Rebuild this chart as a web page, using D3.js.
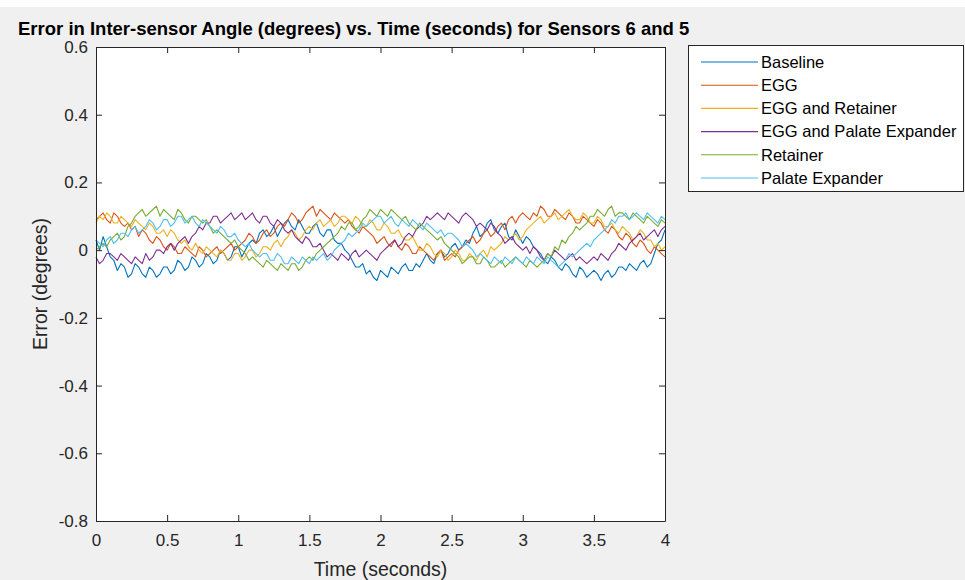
<!DOCTYPE html>
<html>
<head>
<meta charset="utf-8">
<script src="https://cdn.jsdelivr.net/npm/d3@7"></script>
<style>
  body { margin: 0; background: #f0f0f0; }
  svg { display: block; font-family: "Liberation Sans", Arial, sans-serif; }
</style>
</head>
<body>
<svg width="965" height="580"></svg>
<script>
// time samples (seconds), one every 0.025 s
const times = d3.range(161).map((i) => +(i * 0.025).toFixed(3));

const seriesNames = [
  "Baseline",
  "EGG",
  "EGG and Retainer",
  "EGG and Palate Expander",
  "Retainer",
  "Palate Expander",
];
const colors = ["#0072BD", "#D95319", "#EDB120", "#7E2F8E", "#77AC30", "#4DBEEE"];

// values, one per time sample
const baseline = [
  0.03, 0.0, 0.04, 0.01, -0.02, -0.03, -0.06, -0.04, -0.05, -0.08, -0.07, -0.04, -0.05, -0.07, -0.08, -0.05, -0.06, -0.08, -0.07, -0.05,
  -0.05, -0.07, -0.06, -0.03, -0.04, -0.06, -0.05, -0.02, -0.03, -0.05, -0.04, -0.01, -0.02, -0.04, -0.03, 0.0, -0.01, -0.03, -0.02, 0.01,
  0.01, -0.02, 0.0, 0.02, 0.03, 0.02, 0.05, 0.06, 0.04, 0.05, 0.07, 0.04, 0.06, 0.08, 0.09, 0.07, 0.06, 0.09, 0.07, 0.05,
  0.05, 0.07, 0.08, 0.05, 0.04, 0.06, 0.06, 0.03, 0.02, 0.02, 0.0, -0.01, -0.03, -0.05, -0.05, -0.04, -0.07, -0.06, -0.08, -0.09,
  -0.06, -0.07, -0.08, -0.05, -0.06, -0.07, -0.05, -0.04, -0.06, -0.06, -0.04, -0.05, -0.03, -0.01, -0.03, -0.04, -0.01, 0.0, -0.02, -0.01,
  0.01, 0.02, 0.0, 0.01, 0.03, 0.02, 0.05, 0.07, 0.04, 0.05, 0.08, 0.09, 0.06, 0.05, 0.07, 0.08, 0.04, 0.03, 0.06, 0.04,
  0.02, 0.04, 0.03, 0.01, 0.0, -0.01, -0.03, -0.04, -0.02, -0.03, -0.05, -0.06, -0.04, -0.05, -0.07, -0.08, -0.05, -0.06, -0.08, -0.07,
  -0.06, -0.07, -0.09, -0.07, -0.06, -0.08, -0.07, -0.05, -0.05, -0.06, -0.04, -0.05, -0.06, -0.04, -0.03, -0.05, -0.04, -0.01, 0.02, 0.03,
  0.06,
];
const egg = [
  0.09, 0.1, 0.11, 0.09, 0.08, 0.11, 0.1, 0.08, 0.07, 0.08, 0.06, 0.07, 0.04, 0.06, 0.05, 0.03, 0.02, 0.04, 0.03, 0.01,
  0.0, 0.02, 0.01, -0.01, -0.01, 0.01, 0.0, -0.01, -0.02, 0.01, 0.0, -0.02, -0.01, 0.0, 0.01, -0.01, 0.0, 0.01, 0.02, 0.0,
  0.01, 0.02, 0.03, 0.05, 0.04, 0.02, 0.03, 0.05, 0.06, 0.04, 0.05, 0.07, 0.08, 0.07, 0.09, 0.11, 0.1, 0.08, 0.09, 0.11,
  0.12, 0.13, 0.1, 0.12, 0.11, 0.1, 0.09, 0.11, 0.1, 0.09, 0.08, 0.09, 0.07, 0.06, 0.05, 0.07, 0.06, 0.05, 0.04, 0.02,
  0.03, 0.04, 0.02, 0.01, 0.03, 0.01, 0.0, 0.02, 0.01, -0.01, -0.01, 0.01, 0.0, -0.01, -0.02, -0.03, -0.01, 0.0, -0.03, -0.02,
  -0.01, -0.02, 0.0, 0.01, 0.02, 0.03, 0.04, 0.02, 0.03, 0.05, 0.06, 0.04, 0.05, 0.07, 0.08, 0.06, 0.09, 0.1, 0.08, 0.1,
  0.11, 0.1, 0.09, 0.11, 0.1, 0.13, 0.12, 0.1, 0.1, 0.12, 0.11, 0.1, 0.09, 0.11, 0.1, 0.08, 0.08, 0.1, 0.09, 0.08,
  0.07, 0.09, 0.08, 0.06, 0.05, 0.07, 0.06, 0.04, 0.03, 0.05, 0.04, 0.02, 0.01, 0.03, 0.02, 0.0, -0.01, 0.01, 0.0, -0.01,
  -0.02,
];
const eggRetainer = [
  0.08, 0.1, 0.09, 0.11, 0.1, 0.08, 0.08, 0.1, 0.09, 0.08, 0.07, 0.09, 0.08, 0.07, 0.06, 0.08, 0.07, 0.05, 0.05, 0.06,
  0.04, 0.06, 0.05, 0.03, 0.02, 0.03, 0.01, 0.0, 0.02, 0.0, -0.01, 0.01, 0.0, -0.01, -0.02, 0.0, -0.01, -0.03, -0.03, -0.01,
  -0.01, -0.03, -0.02, 0.0, 0.0, -0.02, -0.01, 0.01, 0.01, 0.0, 0.02, 0.03, 0.01, 0.03, 0.04, 0.06, 0.05, 0.03, 0.04, 0.06,
  0.07, 0.06, 0.08, 0.09, 0.07, 0.08, 0.09, 0.07, 0.08, 0.1, 0.1, 0.09, 0.08, 0.1, 0.09, 0.07, 0.07, 0.09, 0.08, 0.06,
  0.06, 0.08, 0.07, 0.05, 0.05, 0.06, 0.04, 0.03, 0.03, 0.04, 0.02, 0.0, 0.0, 0.02, 0.01, -0.01, -0.02, 0.0, -0.01, -0.03,
  -0.02, 0.0, -0.01, -0.03, -0.03, -0.01, -0.02, -0.03, -0.01, 0.0, -0.02, 0.01, 0.0, 0.01, 0.02, 0.04, 0.03, 0.04, 0.05, 0.03,
  0.04, 0.06, 0.07, 0.08, 0.09, 0.1, 0.08, 0.09, 0.1, 0.11, 0.09, 0.1, 0.11, 0.12, 0.1, 0.09, 0.09, 0.11, 0.1, 0.08,
  0.08, 0.1, 0.09, 0.07, 0.07, 0.08, 0.06, 0.05, 0.07, 0.06, 0.05, 0.03, 0.04, 0.06, 0.05, 0.03, 0.03, 0.01, 0.02, 0.0,
  0.01,
];
const eggPalate = [
  -0.02, -0.04, -0.03, -0.01, -0.01, -0.02, -0.03, -0.01, -0.02, -0.03, -0.04, -0.02, -0.03, -0.04, -0.01, -0.03, -0.02, 0.0, 0.0, -0.01,
  0.01, 0.02, 0.0, 0.02, 0.03, 0.04, 0.02, 0.04, 0.05, 0.07, 0.06, 0.08, 0.08, 0.1, 0.1, 0.08, 0.09, 0.1, 0.11, 0.09,
  0.1, 0.11, 0.09, 0.1, 0.11, 0.09, 0.08, 0.1, 0.1, 0.08, 0.07, 0.09, 0.08, 0.06, 0.05, 0.06, 0.04, 0.03, 0.02, 0.04,
  0.03, 0.01, 0.01, 0.02, 0.0, -0.02, -0.01, -0.02, -0.03, -0.01, -0.02, -0.03, -0.01, 0.0, -0.02, -0.01, 0.0, -0.01, -0.02, -0.03,
  -0.01, 0.0, 0.01, 0.02, 0.03, 0.01, 0.02, 0.04, 0.05, 0.04, 0.06, 0.07, 0.08, 0.1, 0.09, 0.1, 0.11, 0.1, 0.09, 0.11,
  0.1, 0.09, 0.08, 0.1, 0.11, 0.1, 0.09, 0.07, 0.08, 0.07, 0.06, 0.08, 0.07, 0.05, 0.04, 0.02, 0.03, 0.04, 0.02, 0.01,
  0.0, 0.01, -0.01, 0.01, 0.0, -0.02, -0.03, -0.01, -0.02, 0.0, -0.01, -0.02, -0.03, -0.02, -0.01, -0.03, -0.02, -0.03, -0.04, -0.03,
  -0.02, -0.03, -0.01, -0.02, -0.03, -0.01, 0.0, 0.02, 0.01, 0.0, 0.02, 0.03, 0.04, 0.05, 0.03, 0.04, 0.05, 0.06, 0.04, 0.06,
  0.07,
];
const retainer = [
  0.0, 0.01, 0.02, 0.01, 0.03, 0.04, 0.05, 0.03, 0.04, 0.07, 0.08, 0.1, 0.11, 0.12, 0.1, 0.11, 0.12, 0.13, 0.1, 0.12,
  0.11, 0.1, 0.09, 0.12, 0.11, 0.09, 0.08, 0.1, 0.1, 0.09, 0.08, 0.09, 0.07, 0.05, 0.06, 0.05, 0.04, 0.03, 0.02, 0.03,
  0.01, 0.0, -0.01, -0.03, -0.02, -0.03, -0.04, -0.05, -0.03, -0.04, -0.05, -0.06, -0.04, -0.05, -0.06, -0.04, -0.04, -0.06, -0.05, -0.03,
  -0.02, -0.03, -0.01, 0.0, 0.01, 0.02, 0.03, 0.04, 0.05, 0.07, 0.06, 0.08, 0.08, 0.06, 0.07, 0.09, 0.1, 0.12, 0.11, 0.1,
  0.12, 0.11, 0.1, 0.12, 0.11, 0.1, 0.09, 0.1, 0.08, 0.07, 0.06, 0.08, 0.07, 0.06, 0.05, 0.04, 0.03, 0.04, 0.02, 0.01,
  0.0, -0.01, -0.02, -0.04, -0.03, -0.02, -0.02, -0.04, -0.04, -0.02, -0.03, -0.05, -0.05, -0.04, -0.03, -0.05, -0.04, -0.03, -0.02, -0.03,
  -0.04, -0.05, -0.03, -0.04, -0.05, -0.04, -0.03, -0.01, -0.02, 0.01, 0.0, 0.03, 0.02, 0.04, 0.05, 0.07, 0.06, 0.07, 0.08, 0.1,
  0.1, 0.12, 0.11, 0.1, 0.12, 0.13, 0.1, 0.11, 0.11, 0.1, 0.09, 0.11, 0.1, 0.09, 0.08, 0.1, 0.09, 0.08, 0.07, 0.09,
  0.08,
];
const palateExpander = [
  0.03, 0.02, 0.01, 0.03, 0.04, 0.02, 0.03, 0.05, 0.05, 0.04, 0.06, 0.07, 0.05, 0.06, 0.07, 0.09, 0.08, 0.06, 0.07, 0.09,
  0.09, 0.07, 0.08, 0.1, 0.1, 0.08, 0.09, 0.1, 0.08, 0.07, 0.09, 0.08, 0.07, 0.06, 0.05, 0.07, 0.06, 0.04, 0.04, 0.05,
  0.03, 0.02, 0.01, 0.02, 0.0, -0.01, -0.02, -0.01, -0.01, -0.03, -0.03, -0.01, -0.02, -0.04, -0.04, -0.02, -0.03, -0.04, -0.02, -0.03,
  -0.04, -0.02, -0.03, -0.02, -0.01, -0.03, -0.02, 0.0, 0.01, 0.02, 0.03, 0.05, 0.04, 0.05, 0.06, 0.08, 0.07, 0.08, 0.09, 0.1,
  0.1, 0.08, 0.09, 0.1, 0.08, 0.07, 0.09, 0.08, 0.07, 0.09, 0.08, 0.07, 0.06, 0.08, 0.07, 0.06, 0.05, 0.06, 0.04, 0.05,
  0.05, 0.04, 0.03, 0.01, 0.02, 0.01, 0.0, -0.02, -0.01, -0.02, -0.03, -0.04, -0.02, -0.03, -0.04, -0.02, -0.03, -0.04, -0.02, -0.03,
  -0.04, -0.02, -0.03, -0.04, -0.02, -0.03, -0.04, -0.02, -0.03, -0.04, -0.05, -0.04, -0.03, -0.01, -0.02, -0.01, 0.0, 0.01, 0.02, 0.01,
  0.03, 0.04, 0.05, 0.06, 0.07, 0.09, 0.08, 0.1, 0.1, 0.11, 0.09, 0.1, 0.11, 0.1, 0.09, 0.11, 0.1, 0.09, 0.08, 0.1,
  0.09,
];
const seriesValues = [baseline, egg, eggRetainer, eggPalate, retainer, palateExpander];

const xTicks = [0, 0.5, 1, 1.5, 2, 2.5, 3, 3.5, 4];
const yTicks = [-0.8, -0.6, -0.4, -0.2, 0, 0.2, 0.4, 0.6];

const svg = d3.select("svg");
const axisColor = "#262626";

// white strip at the very top of the figure
svg.append("rect").attr("x", 0).attr("y", 0).attr("width", 965).attr("height", 7).attr("fill", "#fff");

const plot = { left: 96, right: 665, top: 47, bottom: 521 };
const x = d3.scaleLinear().domain([0, 4]).range([plot.left, plot.right]);
const y = d3.scaleLinear().domain([-0.8, 0.6]).range([plot.bottom, plot.top]);

svg.append("rect")
  .attr("x", plot.left).attr("y", plot.top)
  .attr("width", plot.right - plot.left).attr("height", plot.bottom - plot.top)
  .attr("fill", "#fff");

const line = d3.line()
  .x((d) => x(d[0]))
  .y((d) => y(d[1]));

svg.append("g")
  .selectAll("path")
  .data(seriesValues)
  .enter()
  .append("path")
  .attr("d", (vals) => line(times.map((t, i) => [t, vals[i]])))
  .attr("fill", "none")
  .attr("stroke", (d, i) => colors[i])
  .attr("stroke-width", 1.1)
  .attr("stroke-linejoin", "round");

// axes, MATLAB style: ticks inward on all four sides, plain hyphen minus
const tickLen = 6;
const fmt = (d) => String(d);

const xBottom = svg.append("g")
  .attr("transform", `translate(0,${plot.bottom})`)
  .call(d3.axisBottom(x).tickValues(xTicks).tickSizeInner(-tickLen).tickSizeOuter(0).tickPadding(13).tickFormat(fmt));
const xTop = svg.append("g")
  .attr("transform", `translate(0,${plot.top})`)
  .call(d3.axisTop(x).tickValues(xTicks).tickSizeInner(-tickLen).tickSizeOuter(0).tickFormat(""));
const yLeft = svg.append("g")
  .attr("transform", `translate(${plot.left},0)`)
  .call(d3.axisLeft(y).tickValues(yTicks).tickSizeInner(-tickLen).tickSizeOuter(0).tickPadding(8).tickFormat(fmt));
const yRight = svg.append("g")
  .attr("transform", `translate(${plot.right},0)`)
  .call(d3.axisRight(y).tickValues(yTicks).tickSizeInner(-tickLen).tickSizeOuter(0).tickFormat(""));

[xBottom, xTop, yLeft, yRight].forEach((g) => {
  g.selectAll("path.domain").attr("stroke", axisColor);
  g.selectAll(".tick line").attr("stroke", axisColor);
  g.selectAll(".tick text").attr("fill", axisColor).style("font-size", "17px").style("font-family", "Liberation Sans, Arial, sans-serif");
});

// title
svg.append("text")
  .attr("x", 18).attr("y", 35)
  .attr("fill", "#000")
  .style("font-size", "18.5px")
  .style("font-weight", "bold")
  .text("Error in Inter-sensor Angle (degrees) vs. Time (seconds) for Sensors 6 and 5");

// axis labels
svg.append("text")
  .attr("x", (plot.left + plot.right) / 2).attr("y", 576)
  .attr("text-anchor", "middle")
  .attr("fill", axisColor)
  .style("font-size", "19.5px")
  .text("Time (seconds)");

svg.append("text")
  .attr("transform", `translate(47,${(plot.top + plot.bottom) / 2}) rotate(-90)`)
  .attr("text-anchor", "middle")
  .attr("fill", axisColor)
  .style("font-size", "19.5px")
  .text("Error (degrees)");

// legend
const legend = svg.append("g").attr("transform", "translate(688,45)");
legend.append("rect")
  .attr("x", 0.5).attr("y", 0.5)
  .attr("width", 275).attr("height", 146)
  .attr("fill", "#fff")
  .attr("stroke", axisColor);

const rowH = 23.2;
const items = legend.selectAll("g.item")
  .data(seriesNames)
  .enter()
  .append("g")
  .attr("class", "item")
  .attr("transform", (d, i) => `translate(0,${17 + i * rowH})`);

items.append("line")
  .attr("x1", 13).attr("x2", 70)
  .attr("y1", 0).attr("y2", 0)
  .attr("stroke", (d, i) => colors[i])
  .attr("stroke-width", 1.1);

items.append("text")
  .attr("x", 73).attr("y", 0)
  .attr("dy", "0.35em")
  .attr("fill", "#000")
  .style("font-size", "16.5px")
  .text((d) => d);
</script>
</body>
</html>
